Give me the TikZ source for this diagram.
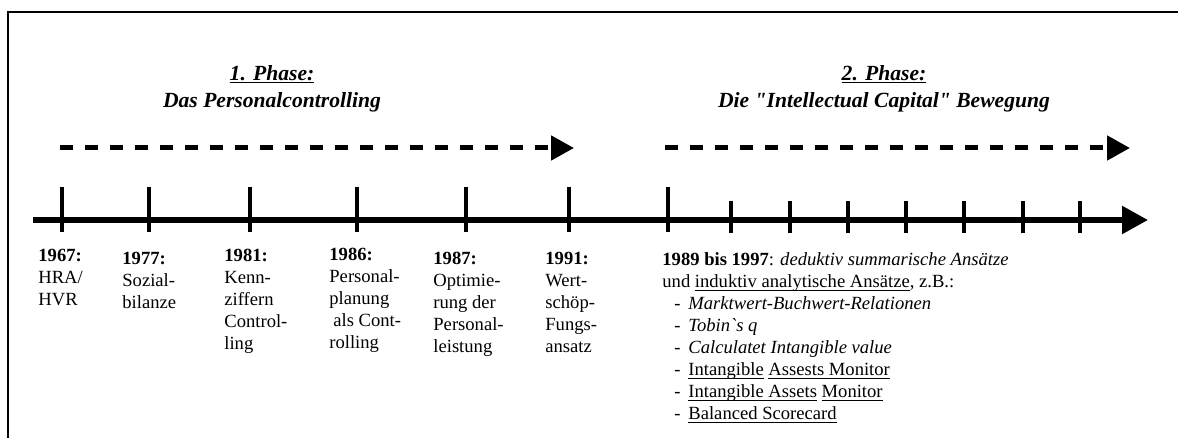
\documentclass[tikz,border=0pt]{standalone}
\usepackage{fontspec}
\setmainfont{Liberation Serif}[Ligatures=TeXOff]
\usetikzlibrary{arrows.meta}
\newsavebox\ulbox
\newcommand{\uln}[1]{\sbox\ulbox{#1}\rlap{\rule[-1.6pt]{\wd\ulbox}{0.5pt}}\usebox\ulbox}
\newcommand{\ulnt}[1]{\sbox\ulbox{#1}\rlap{\rule[-1.4pt]{\wd\ulbox}{0.8pt}}\usebox\ulbox}
\newcommand{\tlitem}{\hspace*{6pt}\makebox[7pt][l]{-}}
\begin{document}
\begin{tikzpicture}[x=0.5pt,y=-0.5pt,
  frameline/.style={line width=1pt},
  axis/.style={line width=2.75pt,-{Triangle[length=13pt,width=13.5pt]}},
  tallmark/.style={line width=2.4pt},
  shortmark/.style={line width=2.2pt},
  phasearrow/.style={line width=2.5pt,dash pattern=on 6.5pt off 6pt,-{Triangle[length=11.5pt,width=12pt]}},
  lbl/.style={anchor=north west,inner sep=0pt,align=left,font=\fontsize{9.3pt}{11pt}\selectfont},
  ttl/.style={anchor=north,inner sep=0pt,align=center,font=\fontsize{10.8pt}{13.5pt}\selectfont\bfseries\itshape}]
\useasboundingbox (0,0) rectangle (1178,438);
\clip (0,0) rectangle (1178,438);
% frame
\draw[frameline] (8,460) -- (8,12) -- (1200,12);
% titles
\node[ttl] (t1) at (272,64) {\rule{0pt}{8pt}\ulnt{1. Phase:}\\Das Personalcontrolling};
\node[ttl] (t2) at (884,64) {\rule{0pt}{8pt}\ulnt{2. Phase:}\\Die "Intellectual Capital" Bewegung};
% phase arrows
\coordinate (p1s) at (60,148);
\coordinate (p1e) at (574,148);
\coordinate (p2s) at (665,148);
\coordinate (p2e) at (1130,148);
\draw[phasearrow] (p1s) -- (p1e);
\draw[phasearrow] (p2s) -- (p2e);
% main axis
\coordinate (a0) at (33,220);
\coordinate (a1) at (1148,220);
\draw[axis] (a0) -- (a1);
% tall marks
\foreach \x [count=\i] in {62,149,250,357,466,569,668}{
  \coordinate (m\i) at (\x,220);
  \draw[tallmark] (m\i) ++(0,-33) -- ++(0,45);
}
% short marks
\foreach \x [count=\i] in {731,790,848,906,964,1023,1080}{
  \coordinate (s\i) at (\x,220);
  \draw[shortmark] (s\i) ++(0,-19) -- ++(0,32);
}
% labels phase 1
\node[lbl] (l1) at (38,245.3) {\rule{0pt}{8pt}\textbf{1967:}\\HRA/\\HVR};
\node[lbl] (l2) at (122,247.8) {\rule{0pt}{8pt}\textbf{1977:}\\Sozial-\\bilanze};
\node[lbl] (l3) at (224,245.3) {\rule{0pt}{8pt}\textbf{1981:}\\Kenn-\\ziffern\\Control-\\ling};
\node[lbl] (l4) at (329,244.3) {\rule{0pt}{8pt}\textbf{1986:}\\Personal-\\planung\\\hspace*{2pt}als Cont-\\rolling};
\node[lbl] (l5) at (433,247.8) {\rule{0pt}{8pt}\textbf{1987:}\\Optimie-\\rung der\\Personal-\\leistung};
\node[lbl] (l6) at (545,247.8) {\rule{0pt}{8pt}\textbf{1991:}\\Wert-\\schöp-\\Fungs-\\ansatz};
% right block
\node[lbl] (rb) at (662,249.3) {\rule{0pt}{8pt}\textbf{1989 bis 1997}: \textit{deduktiv summarische Ansätze}\\
und \uln{induktiv analytische Ansätze}, z.B.:\\
\tlitem\textit{Marktwert-Buchwert-Relationen}\\
\tlitem\textit{Tobin`s q}\\
\tlitem\textit{Calculatet Intangible value}\\
\tlitem\uln{Intangible} \uln{Assests Monitor}\\
\tlitem\uln{Intangible Assets} \uln{Monitor}\\
\tlitem\uln{Balanced Scorecard}};
\end{tikzpicture}
\end{document}
